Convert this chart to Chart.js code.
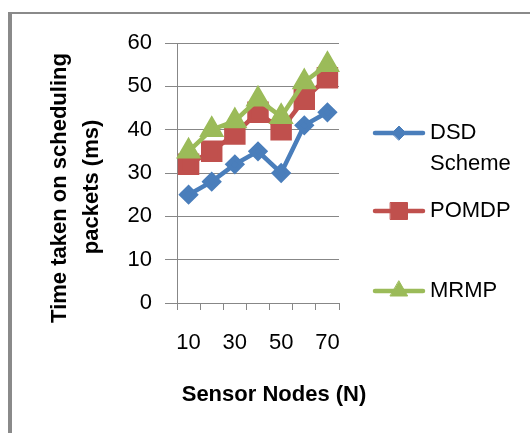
<!DOCTYPE html>
<html>
<head>
<meta charset="utf-8">
<script src="https://cdn.jsdelivr.net/npm/chart.js"></script>
<style>
  html, body { margin: 0; padding: 0; background: #fff; }
  #wrap { position: relative; width: 530px; height: 433px; overflow: hidden; }
  #frame {
    position: absolute; left: 8px; top: 12px; width: 600px; height: 500px;
    border-left: 4px solid #8a8a8a; border-top: 2px solid #8a8a8a;
  }
  #chart { position: absolute; left: 0; top: 0; }
</style>
</head>
<body>
<div id="wrap">
  <div id="frame"></div>
  <canvas id="chart" width="530" height="433"></canvas>
</div>
<script>
// --- data ---
const nodes = ['10', '20', '30', '40', '50', '60', '70'];
const dsdScheme = [25, 28, 32, 35, 30, 41, 44];
const pomdp = [32, 35, 39, 44, 40, 47, 52];
const mrmp = [35, 40, 42, 47, 43, 51, 55];
const yTicks = [0, 10, 20, 30, 40, 50, 60];

const FONT = '"Liberation Sans", Arial, sans-serif';
const GRID = '#878787';

// axis titles + legend drawn by hand, Excel style
const extras = {
    id: 'extras',
    afterDraw(chart) {
        const ctx = chart.ctx;
        const area = chart.chartArea;
        ctx.save();
        ctx.fillStyle = '#000';
        ctx.font = 'bold 22px ' + FONT;
        ctx.textAlign = 'center';
        ctx.textBaseline = 'middle';

        // y title (two lines)
        ctx.save();
        ctx.translate(60, 188);
        ctx.rotate(-Math.PI / 2);
        ctx.fillText('Time taken on scheduling', 0, 0);
        ctx.restore();
        ctx.save();
        ctx.translate(92, 187);
        ctx.rotate(-Math.PI / 2);
        ctx.fillText('packets (ms)', 0, 0);
        ctx.restore();

        // x title
        ctx.fillText('Sensor Nodes (N)', 274, 395);

        // legend, clipped at the bottom like the original
        ctx.beginPath();
        ctx.rect(area.right + 20, 0, 200, 297);
        ctx.clip();
        const rows = [
            { y: 133, text: ['DSD', 'Scheme'] },
            { y: 211, text: ['POMDP'] },
            { y: 291, text: ['MRMP'] }
        ];
        ctx.font = '22px ' + FONT;
        ctx.textAlign = 'left';
        chart.data.datasets.forEach((ds, i) => {
            const r = rows[i];
            ctx.strokeStyle = ds.borderColor;
            ctx.lineWidth = ds.borderWidth;
            ctx.lineCap = 'round';
            ctx.beginPath();
            ctx.moveTo(375, r.y);
            ctx.lineTo(423, r.y);
            ctx.stroke();
            ctx.fillStyle = ds.backgroundColor;
            ctx.lineWidth = 1;
            Chart.helpers.drawPoint(ctx, {
                pointStyle: ds.pointStyle, rotation: 0,
                radius: ds.pointRadius, borderWidth: 1
            }, 399, r.y);
            ctx.fillStyle = '#000';
            r.text.forEach((t, k) => ctx.fillText(t, 430, r.y + k * 31));
        });
        ctx.restore();
    }
};

new Chart(document.getElementById('chart'), {
    type: 'line',
    data: {
        labels: nodes,
        datasets: [{
            label: 'DSD Scheme',
            data: dsdScheme,
            borderColor: '#4a7ebb',
            backgroundColor: '#4a7ebb',
            borderWidth: 4.5,
            pointStyle: 'rectRot',
            pointRadius: 7,
            order: 2
        }, {
            label: 'POMDP',
            data: pomdp,
            borderColor: '#c0504d',
            backgroundColor: '#c0504d',
            borderWidth: 4.5,
            pointStyle: 'rect',
            pointRadius: 12,
            order: 1
        }, {
            label: 'MRMP',
            data: mrmp,
            borderColor: '#9bbb59',
            backgroundColor: '#9bbb59',
            borderWidth: 4.5,
            pointStyle: 'triangle',
            pointRadius: 10,
            order: 0
        }]
    },
    options: {
        responsive: false,
        devicePixelRatio: 1,
        animation: false,
        layout: { padding: { left: 0, top: 43, right: 191, bottom: 0 } },
        plugins: { legend: { display: false }, tooltip: { enabled: false } },
        scales: {
            x: {
                offset: true,
                grid: { offset: true, drawOnChartArea: false, tickLength: 7, color: GRID },
                border: { color: GRID, width: 1 },
                ticks: {
                    autoSkip: false, maxRotation: 0, padding: 20,
                    color: '#000', font: { family: FONT, size: 22 },
                    callback: (v, i) => (i % 2 === 0 ? nodes[i] : '')
                },
                afterFit: (s) => { s.height = 130; }
            },
            y: {
                min: yTicks[0],
                max: yTicks[yTicks.length - 1],
                grid: { tickLength: 12, color: GRID },
                border: { color: GRID, width: 1 },
                ticks: { stepSize: 10, padding: 13, color: '#000', font: { family: FONT, size: 22 } },
                afterFit: (s) => { s.width = 177; }
            }
        }
    },
    plugins: [extras]
});
</script>
</body>
</html>
